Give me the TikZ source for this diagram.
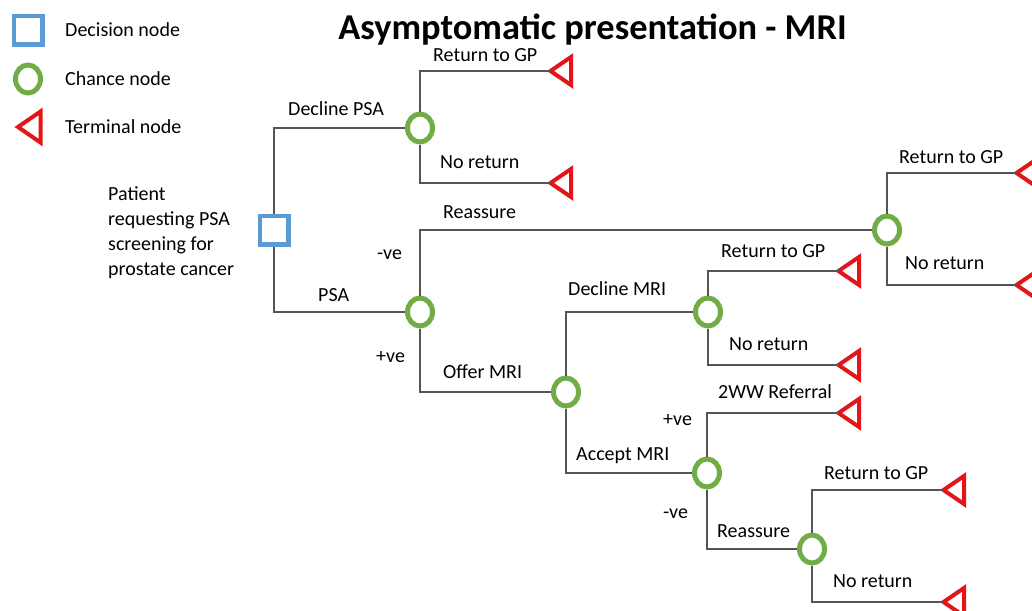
\documentclass[tikz,border=0pt]{standalone}
\usepackage{fontspec}
\setmainfont{Carlito}
\usetikzlibrary{shapes.geometric}
\definecolor{decblue}{RGB}{91,155,213}
\definecolor{chgreen}{RGB}{112,173,71}
\definecolor{termred}{RGB}{228,20,24}
\definecolor{branchgray}{RGB}{85,85,85}
\tikzset{
  decision/.style={rectangle, draw=decblue, line width=4.5pt, fill=white,
    minimum size=28.5pt, inner sep=0pt},
  chance/.style={ellipse, draw=chgreen, line width=5pt, fill=white,
    minimum width=25pt, minimum height=28pt, inner sep=0pt},
  terminal/.style={draw=termred, line width=4pt, line join=miter},
  branch/.style={draw=branchgray, line width=1.3pt},
  lbl/.style={anchor=base west, inner sep=0pt, font=\fontsize{20}{25}\selectfont},
  titletext/.style={anchor=base, inner sep=0pt, font=\fontsize{36.4}{40}\selectfont\bfseries},
}
% terminal triangle pointing left, tip at the named coordinate
\newcommand{\termnode}[3]{%
  \coordinate (#1) at (#2,#3);
  \draw[terminal] (#1) -- ++(20.5,-14) -- ++(0,28) -- cycle;}
\begin{document}
\begin{tikzpicture}[x=1pt,y=-1pt]
\useasboundingbox (0,0) rectangle (1032,610);
\clip (0,0) rectangle (1032,610);
\fill[white] (0,0) rectangle (1032,610);

% title
\node[titletext] (title) at (592.5,40) {Asymptomatic presentation - MRI};

% legend
\node[decision] (legdec) at (28,30.5) {};
\node[chance] (legch) at (28,79) {};
\coordinate (legterm) at (18,127);
\draw[terminal] (legterm) -- ++(22.5,-15.5) -- ++(0,31) -- cycle;
\node[lbl] (legdectxt) at (65,37) {Decision node};
\node[lbl] (legchtxt) at (65,85) {Chance node};
\node[lbl] (legtermtxt) at (65,133) {Terminal node};

% nodes of the tree
\node[decision] (root) at (274,230) {};
\node[chance] (cDP) at (420,128) {};
\node[chance] (cPSA) at (420,312) {};
\node[chance] (cRe) at (887,230) {};
\node[chance] (cMRI) at (566,392) {};
\node[chance] (cDM) at (708,312) {};
\node[chance] (cAM) at (707,473) {};
\node[chance] (cRA) at (812,549) {};

\termnode{tDP1}{550.5}{71}
\termnode{tDP2}{550.5}{183}
\termnode{tRe1}{1016.5}{173}
\termnode{tRe2}{1016.5}{285}
\termnode{tDM1}{838.5}{271}
\termnode{tDM2}{838.5}{365}
\termnode{tWW}{838.5}{413}
\termnode{tRA1}{943.5}{490}
\termnode{tRA2}{943.5}{602}

% branches
\draw[branch] (root.north) |- (cDP.west);
\draw[branch] (root.south) |- (cPSA.west);
\draw[branch] (cDP.north) |- (tDP1);
\draw[branch] (cDP.south) |- (tDP2);
\draw[branch] (cPSA.north) |- (cRe.west);
\draw[branch] (cPSA.south) |- (cMRI.west);
\draw[branch] (cRe.north) |- (tRe1);
\draw[branch] (cRe.south) |- (tRe2);
\draw[branch] (cMRI.north) |- (cDM.west);
\draw[branch] (cMRI.south) |- (cAM.west);
\draw[branch] (cDM.north) |- (tDM1);
\draw[branch] (cDM.south) |- (tDM2);
\draw[branch] (cAM.north) |- (tWW);
\draw[branch] (cAM.south) |- (cRA.west);
\draw[branch] (cRA.north) |- (tRA1);
\draw[branch] (cRA.south) |- (tRA2);

% branch labels
\node[lbl] (patient1) at (108,200) {Patient};
\node[lbl] (patient2) at (108,225) {requesting PSA};
\node[lbl] (patient3) at (108,250) {screening for};
\node[lbl] (patient4) at (108,275) {prostate cancer};
\node[lbl] (lDP) at (288,115) {Decline PSA};
\node[lbl] (lDP1) at (433,62) {Return to GP};
\node[lbl] (lDP2) at (440,168) {No return};
\node[lbl] (lPSA) at (318,301) {PSA};
\node[lbl] (lneg1) at (377,259) {-ve};
\node[lbl] (lpos1) at (376,362) {+ve};
\node[lbl] (lRe) at (443,218) {Reassure};
\node[lbl] (lRe1) at (899,163) {Return to GP};
\node[lbl] (lRe2) at (905,269) {No return};
\node[lbl] (lOM) at (443,378) {Offer MRI};
\node[lbl] (lDM) at (568,295) {Decline MRI};
\node[lbl] (lDM1) at (721,257) {Return to GP};
\node[lbl] (lDM2) at (729,350) {No return};
\node[lbl] (lAM) at (576,460) {Accept MRI};
\node[lbl] (lWW) at (718,398) {2WW Referral};
\node[lbl] (lpos2) at (663,425) {+ve};
\node[lbl] (lneg2) at (663,518) {-ve};
\node[lbl] (lRA) at (717,537) {Reassure};
\node[lbl] (lRA1) at (824,479) {Return to GP};
\node[lbl] (lRA2) at (833,587) {No return};
\end{tikzpicture}
\end{document}
